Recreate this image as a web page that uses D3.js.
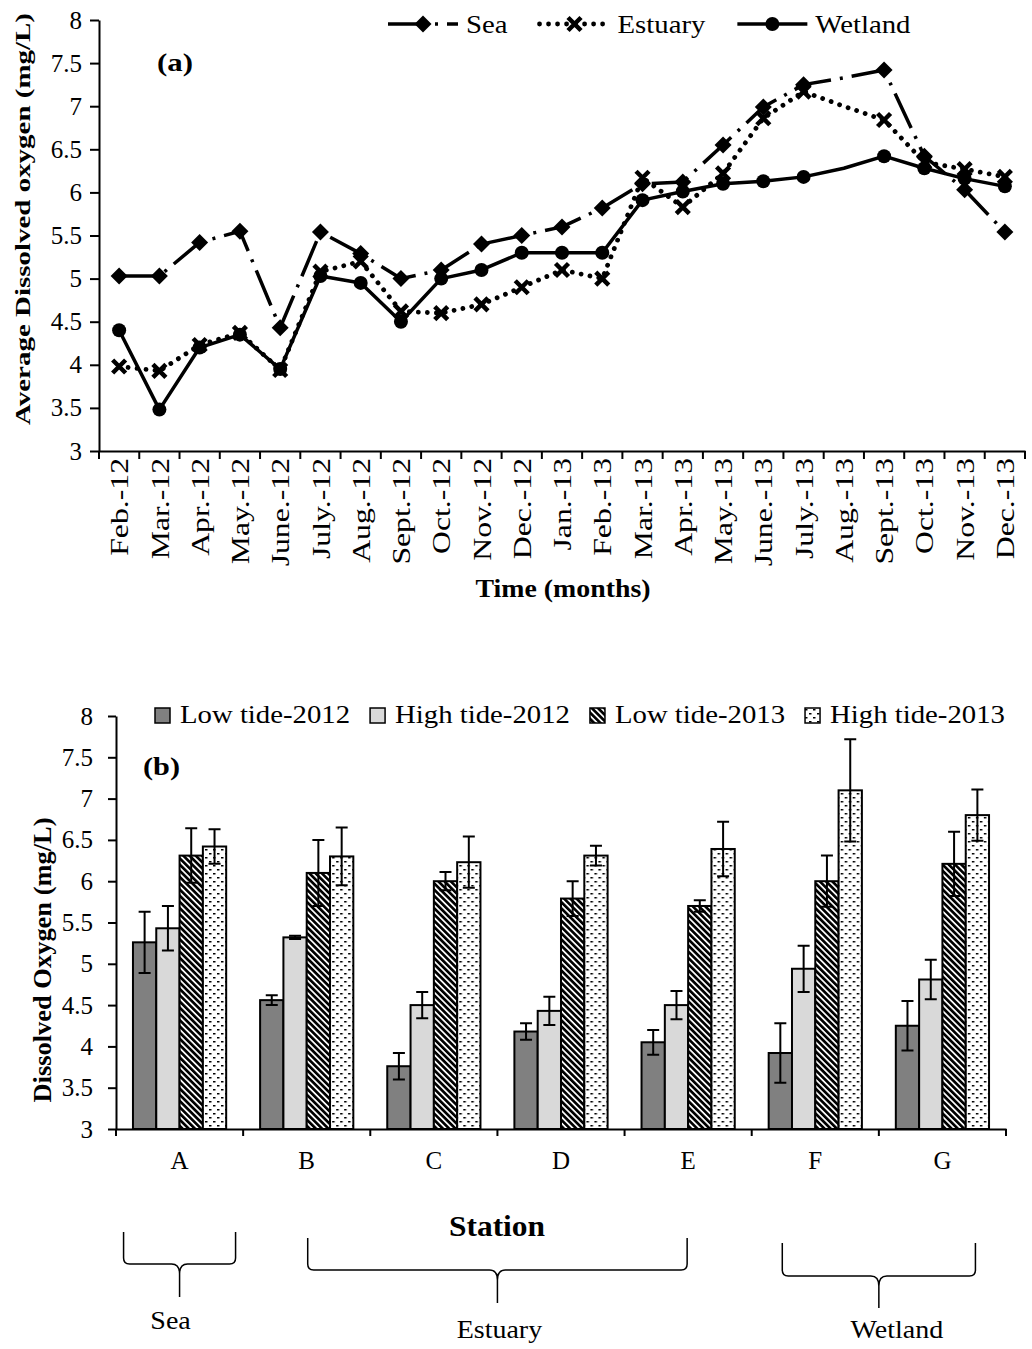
<!DOCTYPE html>
<html>
<head>
<meta charset="utf-8">
<script src="https://cdn.jsdelivr.net/npm/d3@7"></script>
<style>
  body { margin: 0; background: #fff; }
  svg text { font-family: "Liberation Serif", "Times New Roman", serif; fill: #000; }
</style>
</head>
<body>
<svg id="chart" width="1032" height="1349"></svg>
<script>
// ---- panel (a): monthly average DO (mg/L) ----
var months = ["Feb.-12", "Mar.-12", "Apr.-12", "May.-12", "June.-12", "July.-12", "Aug.-12",
  "Sept.-12", "Oct.-12", "Nov.-12", "Dec.-12", "Jan.-13", "Feb.-13", "Mar.-13", "Apr.-13",
  "May.-13", "June.-13", "July.-13", "Aug.-13", "Sept.-13", "Oct.-13", "Nov.-13", "Dec.-13"];
var seaDO     = [5.03, 5.03, 5.42, 5.55, 4.43, 5.54, 5.29, 5.00, 5.10, 5.40, 5.50, 5.60, 5.82,
  6.10, 6.12, 6.55, 6.99, 7.25, 7.33, 7.42, 6.42, 6.03, 5.54];
var estuaryDO = [3.98, 3.93, 4.23, 4.37, 3.94, 5.08, 5.20, 4.62, 4.60, 4.70, 4.90, 5.10, 5.00,
  6.17, 5.83, 6.22, 6.86, 7.17, 7.00, 6.84, 6.35, 6.27, 6.18];
var wetlandDO = [4.40, 3.48, 4.20, 4.35, 3.95, 5.03, 4.95, 4.50, 5.00, 5.10, 5.30, 5.30, 5.30,
  5.91, 6.01, 6.10, 6.13, 6.18, 6.28, 6.42, 6.28, 6.16, 6.07];
var noMarkerMonths = ["Aug.-13"];

// ---- panel (b): station means and error bars ----
var stations = ["A", "B", "C", "D", "E", "F", "G"];
var tideSeries = ["Low tide-2012", "High tide-2012", "Low tide-2013", "High tide-2013"];
var low2012     = [5.26, 4.56, 3.76, 4.18, 4.05, 3.92, 4.25];
var low2012Err  = [0.37, 0.06, 0.16, 0.10, 0.15, 0.36, 0.30];
var high2012    = [5.43, 5.32, 4.50, 4.43, 4.50, 4.94, 4.81];
var high2012Err = [0.27, 0.02, 0.16, 0.17, 0.17, 0.28, 0.24];
var low2013     = [6.31, 6.10, 6.00, 5.79, 5.70, 6.00, 6.21];
var low2013Err  = [0.33, 0.40, 0.11, 0.21, 0.07, 0.31, 0.39];
var high2013    = [6.42, 6.30, 6.23, 6.31, 6.39, 7.10, 6.80];
var high2013Err = [0.21, 0.35, 0.31, 0.12, 0.33, 0.62, 0.31];
var zones = ["Sea", "Estuary", "Wetland"];
var zoneFirst = ["A", "B", "F"];
var zoneLast = ["A", "E", "G"];

var svg = d3.select('#chart');

// stretch text a bit wider, the source font runs wide
function stretch(sel, k) {
  sel.each(function () {
    var w = this.getComputedTextLength();
    d3.select(this).attr('textLength', w * k).attr('lengthAdjust', 'spacingAndGlyphs');
  });
  return sel;
}

function styleAxis(g, size) {
  g.attr('font-family', null).attr('font-size', size);
  g.selectAll('path, line').attr('stroke', '#000').attr('stroke-width', 2);
  g.selectAll('text').attr('fill', '#000');
}

// patterns
var defs = svg.append('defs');
var diag = defs.append('pattern').attr('id', 'diag').attr('patternUnits', 'userSpaceOnUse')
  .attr('width', 4.4).attr('height', 4.4).attr('patternTransform', 'rotate(-45)');
diag.append('rect').attr('width', 4.4).attr('height', 4.4).attr('fill', '#fff');
diag.append('rect').attr('width', 2.7).attr('height', 4.4).attr('fill', '#000');
var dots = defs.append('pattern').attr('id', 'dots').attr('patternUnits', 'userSpaceOnUse')
  .attr('width', 8).attr('height', 8);
dots.append('rect').attr('width', 8).attr('height', 8).attr('fill', '#fff');
dots.append('rect').attr('x', 1).attr('y', 1).attr('width', 2.5).attr('height', 1.5).attr('fill', '#000');
dots.append('rect').attr('x', 5).attr('y', 5).attr('width', 2.5).attr('height', 1.5).attr('fill', '#000');

// ================= panel (a) =================
var xA = d3.scaleBand().domain(months).range([99, 1025]);
var yA = d3.scaleLinear().domain([3, 8]).range([451, 20]);
var cx = function (m) { return xA(m) + xA.bandwidth() / 2; };

var gyA = svg.append('g').attr('transform', 'translate(99,0)')
  .call(d3.axisLeft(yA).tickValues(d3.range(3, 8.01, 0.5)).tickSize(9).tickSizeOuter(0)
    .tickPadding(8).tickFormat(function (d) { return d; }));
styleAxis(gyA, 25);

var gxA = svg.append('g').attr('transform', 'translate(0,451)')
  .call(d3.axisBottom(xA).tickSize(0).tickSizeOuter(0));
styleAxis(gxA, 26);
gxA.selectAll('.tick text')
  .attr('transform', 'rotate(-90)').attr('x', -7).attr('y', 0).attr('dy', '0.35em')
  .style('text-anchor', 'end');
stretch(gxA.selectAll('.tick text'), 1.22);
gxA.selectAll('.bound').data(d3.range(months.length + 1)).enter().append('line')
  .attr('x1', function (i) { return xA.range()[0] + i * xA.step(); })
  .attr('x2', function (i) { return xA.range()[0] + i * xA.step(); })
  .attr('y1', 0).attr('y2', 8).attr('stroke', '#000').attr('stroke-width', 2);

var seriesA = [
  { name: 'Sea', values: seaDO, dash: '38 9 3 9', cap: 'butt', width: 3.5, marker: 'diamond' },
  { name: 'Estuary', values: estuaryDO, dash: '0.01 9', cap: 'round', width: 4.8, marker: 'x' },
  { name: 'Wetland', values: wetlandDO, dash: null, cap: 'butt', width: 3.5, marker: 'circle' }
];

function drawMarker(g, type) {
  if (type === 'diamond') {
    g.append('path').attr('d', 'M0,-8.5L8.5,0L0,8.5L-8.5,0Z').attr('fill', '#000');
  } else if (type === 'x') {
    g.append('path').attr('d', 'M-6.5,-6.5L6.5,6.5M-6.5,6.5L6.5,-6.5')
      .attr('stroke', '#000').attr('stroke-width', 4.5).attr('fill', 'none');
  } else {
    g.append('circle').attr('r', 7).attr('fill', '#000');
  }
}

var lineA = d3.line()
  .x(function (d, i) { return cx(months[i]); })
  .y(function (d) { return yA(d); });

seriesA.forEach(function (s) {
  svg.append('path').datum(s.values).attr('d', lineA)
    .attr('fill', 'none').attr('stroke', '#000').attr('stroke-width', s.width)
    .attr('stroke-dasharray', s.dash).attr('stroke-linecap', s.cap).attr('stroke-linejoin', 'round');
  s.values.forEach(function (v, i) {
    if (noMarkerMonths.indexOf(months[i]) >= 0) return;
    var g = svg.append('g').attr('transform', 'translate(' + cx(months[i]) + ',' + yA(v) + ')');
    drawMarker(g, s.marker);
  });
});

// legend (a)
var legA = svg.append('g');
var lx = 388, ly = 24;
seriesA.forEach(function (s) {
  legA.append('path').attr('d', 'M' + lx + ',' + ly + 'H' + (lx + 70))
    .attr('fill', 'none').attr('stroke', '#000').attr('stroke-width', s.width)
    .attr('stroke-dasharray', s.dash).attr('stroke-linecap', s.cap);
  drawMarker(legA.append('g').attr('transform', 'translate(' + (lx + 35) + ',' + ly + ')'), s.marker);
  var t = legA.append('text').attr('x', lx + 78).attr('y', ly + 9).attr('font-size', 25).text(s.name);
  var w = t.node().getComputedTextLength() * 1.15;
  t.attr('textLength', w).attr('lengthAdjust', 'spacingAndGlyphs');
  lx += 78 + w + 32;
});

svg.append('text').attr('x', 157).attr('y', 71).attr('font-size', 25).attr('font-weight', 'bold')
  .attr('textLength', 36).attr('lengthAdjust', 'spacingAndGlyphs').text('(a)');

svg.append('text').attr('transform', 'translate(30,219) rotate(-90)')
  .attr('text-anchor', 'middle').attr('font-size', 22).attr('font-weight', 'bold')
  .attr('textLength', 412).attr('lengthAdjust', 'spacingAndGlyphs')
  .text('Average Dissolved oxygen (mg/L)');

svg.append('text').attr('x', 563).attr('y', 597).attr('text-anchor', 'middle')
  .attr('font-size', 25).attr('font-weight', 'bold')
  .attr('textLength', 175).attr('lengthAdjust', 'spacingAndGlyphs')
  .text('Time (months)');

// ================= panel (b) =================
var valuesB = [low2012, high2012, low2013, high2013];
var errorsB = [low2012Err, high2012Err, low2013Err, high2013Err];
var fillsB = ['#808080', '#d9d9d9', 'url(#diag)', 'url(#dots)'];

var xB = d3.scaleBand().domain(stations).range([116, 1006]);
var xB1 = d3.scaleBand().domain(tideSeries).range([0, xB.bandwidth()]).paddingOuter(0.728);
var yB = d3.scaleLinear().domain([3, 8]).range([1129, 716]);

var gyB = svg.append('g').attr('transform', 'translate(116,0)')
  .call(d3.axisLeft(yB).tickValues(d3.range(3, 8.01, 0.5)).tickSize(8).tickSizeOuter(0)
    .tickPadding(15).tickFormat(function (d) { return d; }));
styleAxis(gyB, 25);

var rowsB = stations.map(function (st, i) {
  return tideSeries.map(function (ser, j) {
    return { station: st, series: ser, k: j, value: valuesB[j][i], err: errorsB[j][i] };
  });
});

var groups = svg.selectAll('.station').data(rowsB).enter().append('g')
  .attr('transform', function (d) { return 'translate(' + xB(d[0].station) + ',0)'; });
groups.selectAll('rect').data(function (d) { return d; }).enter().append('rect')
  .attr('x', function (d) { return xB1(d.series); })
  .attr('width', xB1.bandwidth())
  .attr('y', function (d) { return yB(d.value); })
  .attr('height', function (d) { return yB(3) - yB(d.value); })
  .attr('fill', function (d) { return fillsB[d.k]; })
  .attr('stroke', '#000').attr('stroke-width', 2);

var errG = groups.selectAll('.err').data(function (d) { return d; }).enter().append('g')
  .attr('transform', function (d) { return 'translate(' + (xB1(d.series) + xB1.bandwidth() / 2) + ',0)'; });
errG.append('path')
  .attr('d', function (d) {
    var t = yB(d.value + d.err), b = yB(d.value - d.err);
    return 'M0,' + t + 'V' + b + 'M-6,' + t + 'H6M-6,' + b + 'H6';
  })
  .attr('fill', 'none').attr('stroke', '#000').attr('stroke-width', 2);

var gxB = svg.append('g').attr('transform', 'translate(0,1129)')
  .call(d3.axisBottom(xB).tickSize(0).tickSizeOuter(0).tickPadding(22));
styleAxis(gxB, 25);
gxB.selectAll('.bound').data(d3.range(stations.length + 1)).enter().append('line')
  .attr('x1', function (i) { return xB.range()[0] + i * xB.step(); })
  .attr('x2', function (i) { return xB.range()[0] + i * xB.step(); })
  .attr('y1', 0).attr('y2', 7).attr('stroke', '#000').attr('stroke-width', 2);

// legend (b)
var legB = svg.append('g');
var bx = 155;
tideSeries.forEach(function (name, j) {
  legB.append('rect').attr('x', bx).attr('y', 708).attr('width', 15).attr('height', 15)
    .attr('fill', fillsB[j]).attr('stroke', '#000').attr('stroke-width', 1.5);
  var t = legB.append('text').attr('x', bx + 25).attr('y', 723).attr('font-size', 25).text(name);
  var w = t.node().getComputedTextLength() * 1.15;
  t.attr('textLength', w).attr('lengthAdjust', 'spacingAndGlyphs');
  bx += 25 + w + 20;
});

svg.append('text').attr('x', 143).attr('y', 775).attr('font-size', 25).attr('font-weight', 'bold')
  .attr('textLength', 37).attr('lengthAdjust', 'spacingAndGlyphs').text('(b)');

svg.append('text').attr('transform', 'translate(51,960) rotate(-90)')
  .attr('text-anchor', 'middle').attr('font-size', 25).attr('font-weight', 'bold')
  .attr('textLength', 285).attr('lengthAdjust', 'spacingAndGlyphs')
  .text('Dissolved Oxygen (mg/L)');

svg.append('text').attr('x', 497).attr('y', 1236).attr('text-anchor', 'middle')
  .attr('font-size', 30).attr('font-weight', 'bold')
  .attr('textLength', 96).attr('lengthAdjust', 'spacingAndGlyphs')
  .text('Station');

// braces grouping the stations
var braceLayout = {
  pad: [56, -1, 33],
  top: [1232, 1238, 1243],
  mid: [1264, 1270, 1276],
  tip: [1297, 1303, 1308],
  labelDx: [-9, 2, 18],
  labelY: [1329, 1338, 1338]
};
function bracePath(x0, x1, top, mid, tip) {
  var c = (x0 + x1) / 2, r = 6;
  return 'M' + x0 + ',' + top + 'L' + x0 + ',' + (mid - r) +
    'Q' + x0 + ',' + mid + ' ' + (x0 + r) + ',' + mid + 'L' + (c - 8) + ',' + mid +
    'Q' + c + ',' + mid + ' ' + c + ',' + (mid + 10) + 'L' + c + ',' + tip +
    'M' + x1 + ',' + top + 'L' + x1 + ',' + (mid - r) +
    'Q' + x1 + ',' + mid + ' ' + (x1 - r) + ',' + mid + 'L' + (c + 8) + ',' + mid +
    'Q' + c + ',' + mid + ' ' + c + ',' + (mid + 10);
}
zones.forEach(function (z, i) {
  var half = xB.bandwidth() / 2;
  var x0 = xB(zoneFirst[i]) + half - braceLayout.pad[i];
  var x1 = xB(zoneLast[i]) + half + braceLayout.pad[i];
  svg.append('path').attr('d', bracePath(x0, x1, braceLayout.top[i], braceLayout.mid[i], braceLayout.tip[i]))
    .attr('fill', 'none').attr('stroke', '#000').attr('stroke-width', 1.5);
  var t = svg.append('text').attr('x', (x0 + x1) / 2 + braceLayout.labelDx[i]).attr('y', braceLayout.labelY[i])
    .attr('text-anchor', 'middle').attr('font-size', 25).text(z);
  stretch(t, 1.12);
});
</script>
</body>
</html>
